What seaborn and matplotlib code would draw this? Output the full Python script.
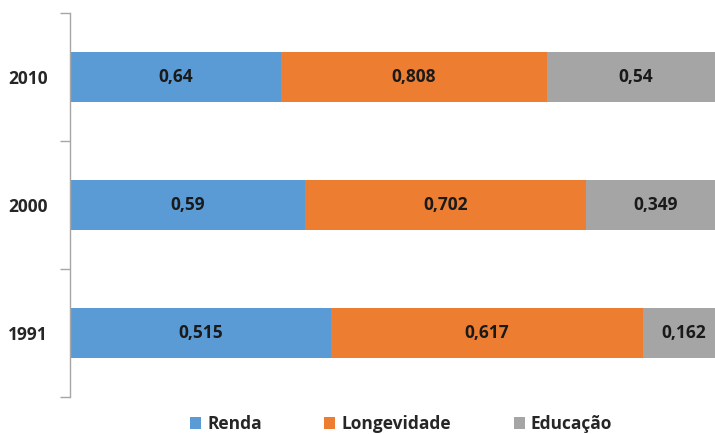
import numpy as np
import pandas as pd
import seaborn as sns
import matplotlib.pyplot as plt
from matplotlib.patches import Patch

years = ["2010", "2000", "1991"]
renda = [0.64, 0.59, 0.515]
longevidade = [0.808, 0.702, 0.617]
educacao = [0.54, 0.349, 0.162]
series = ["Renda", "Longevidade", "Educação"]
colors = ["#5B9BD5", "#ED7D31", "#A5A5A5"]

sns.set_style("white")
plt.rcParams["font.family"] = ["Open Sans", "DejaVu Sans"]

df = pd.DataFrame({"ano": years, "Renda": renda, "Longevidade": longevidade, "Educação": educacao})
total = df[series].sum(axis=1)
# 100% stacked: cumulative shares, drawn back to front
cum = df[series].cumsum(axis=1).div(total, axis=0)
cum["ano"] = df["ano"]

fig = plt.figure(figsize=(7.15, 4.34), dpi=100)
ax = fig.add_axes([70 / 715, 1 - 397 / 434, 655 / 715, 384 / 434])

for name, col in reversed(list(zip(series, colors))):
    sns.barplot(data=cum, x=name, y="ano", order=years, orient="h", color=col,
                width=0.39, saturation=1, edgecolor="none", ax=ax)

# value labels
for i, yr in enumerate(years):
    start = 0
    for name in series:
        end = cum.loc[i, name]
        ax.text((start + end) / 2, i, f"{df.loc[i, name]:g}".replace(".", ","),
                ha="center", va="center", fontsize=12.5, fontweight="bold", color="#1a1a1a")
        start = end

ax.set_xlim(0, 1)
ax.set_ylim(2.5, -0.5)
ax.set_xlabel("")
ax.set_ylabel("")
ax.xaxis.set_visible(False)
for s in ["top", "right", "bottom"]:
    ax.spines[s].set_visible(False)
ax.spines["left"].set_color("#A6A6A6")
ax.spines["left"].set_linewidth(1)
ax.tick_params(axis="y", which="major", left=False, length=0, pad=16, labelsize=12.5)
for lab in ax.get_yticklabels():
    lab.set_fontweight("bold")
ax.set_yticks([-0.5, 0.5, 1.5, 2.5], minor=True)
ax.tick_params(axis="y", which="minor", left=True, length=7, color="#A6A6A6", width=1)

handles = [Patch(facecolor=c, edgecolor="none", label=n) for n, c in zip(series, colors)]
fig.legend(handles=handles, loc="center", bbox_to_anchor=(401 / 715, 1 - 424 / 434), ncol=3,
           frameon=False, handlelength=0.65, handleheight=0.65, handletextpad=0.35,
           columnspacing=3.6, prop={"size": 12.5, "weight": "bold"})

fig.savefig("out.png", dpi=100)
